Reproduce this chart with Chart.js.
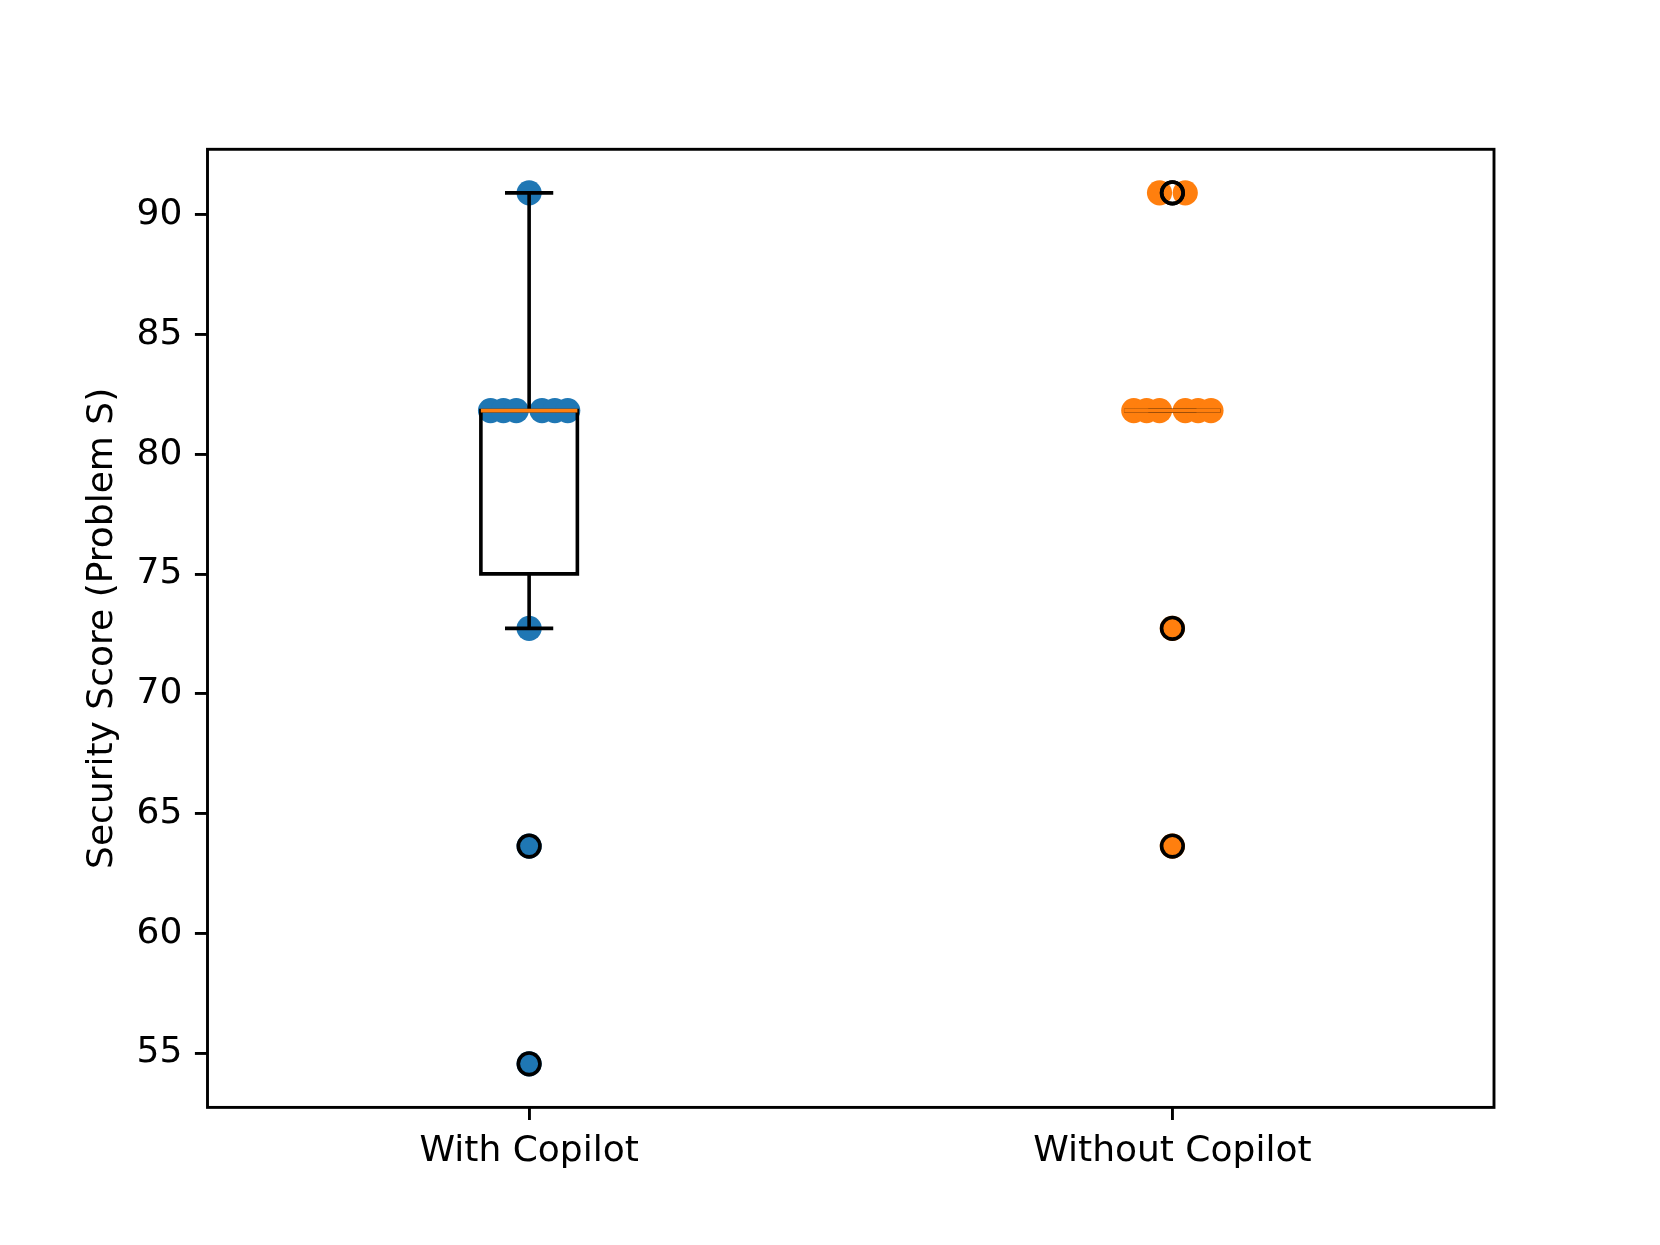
<!DOCTYPE html>
<html><head><meta charset="utf-8">
<script src="https://cdn.jsdelivr.net/npm/chart.js@4"></script>
<style>html,body{margin:0;padding:0;background:#fff;} #wrap{width:1660px;height:1245px;}</style>
</head><body><div id="wrap"><canvas id="c" width="1660" height="1245"></canvas></div>
<script>
const categories = ['With Copilot', 'Without Copilot'];
const withCopilot = [90.91, 81.82, 81.82, 81.82, 81.82, 81.82, 81.82, 72.73, 63.64, 54.55];
const withCopilotJitter = [0, -0.06, -0.04, -0.02, 0.02, 0.04, 0.06, 0, 0, 0];
const withoutCopilot = [90.91, 90.91, 81.82, 81.82, 81.82, 81.82, 81.82, 81.82, 72.73, 63.64];
const withoutCopilotJitter = [-0.02, 0.02, -0.06, -0.04, -0.02, 0.02, 0.04, 0.06, 0, 0];
const yTicks = [55, 60, 65, 70, 75, 80, 85, 90];
const yLabel = 'Security Score (Problem S)';
const seriesValues = [withCopilot, withoutCopilot];
const seriesJitter = [withCopilotJitter, withoutCopilotJitter];
const seriesColors = ['#1f77b4', '#ff7f0e'];

function quantile(sorted, q) {
  const pos = (sorted.length - 1) * q;
  const lo = Math.floor(pos), hi = Math.ceil(pos);
  return sorted[lo] + (sorted[hi] - sorted[lo]) * (pos - lo);
}
function boxStats(vals) {
  const s = [...vals].sort((a, b) => a - b);
  const q1 = quantile(s, 0.25), med = quantile(s, 0.5), q3 = quantile(s, 0.75);
  const iqr = q3 - q1;
  const lo = q1 - 1.5 * iqr, hi = q3 + 1.5 * iqr;
  const inside = s.filter(v => v >= lo - 1e-9 && v <= hi + 1e-9);
  const whislo = Math.min(...inside), whishi = Math.max(...inside);
  const fliers = s.filter(v => v < whislo || v > whishi);
  return {q1, med, q3, whislo, whishi, fliers};
}
const stats = seriesValues.map(boxStats);

const allVals = seriesValues.flat();
const dMin = Math.min(...allVals), dMax = Math.max(...allVals);
const yMargin = (dMax - dMin) * 0.05;

const BOX_W = 0.15;
const LW = 3.6;

const boxPlugin = {
  id: 'boxPlugin',
  afterDatasetsDraw(chart) {
    const ctx = chart.ctx;
    const xs = chart.scales.x, ys = chart.scales.y;
    ctx.save();
    stats.forEach((st, i) => {
      const pos = i + 1;
      const xl = xs.getPixelForValue(pos - BOX_W / 2);
      const xr = xs.getPixelForValue(pos + BOX_W / 2);
      const xc = xs.getPixelForValue(pos);
      const cl = xs.getPixelForValue(pos - BOX_W / 4);
      const cr = xs.getPixelForValue(pos + BOX_W / 4);
      const yq1 = ys.getPixelForValue(st.q1), yq3 = ys.getPixelForValue(st.q3);
      const ylo = ys.getPixelForValue(st.whislo), yhi = ys.getPixelForValue(st.whishi);
      const ymed = ys.getPixelForValue(st.med);
      ctx.strokeStyle = '#000';
      ctx.lineWidth = LW;
      ctx.lineJoin = 'miter';
      ctx.lineCap = 'butt';
      // box
      ctx.beginPath();
      ctx.rect(xl, yq3, xr - xl, yq1 - yq3);
      ctx.stroke();
      // whiskers
      ctx.beginPath();
      ctx.moveTo(xc, yq1); ctx.lineTo(xc, ylo);
      ctx.moveTo(xc, yq3); ctx.lineTo(xc, yhi);
      ctx.stroke();
      // caps
      ctx.beginPath();
      ctx.moveTo(cl, ylo); ctx.lineTo(cr, ylo);
      ctx.moveTo(cl, yhi); ctx.lineTo(cr, yhi);
      ctx.stroke();
      // median
      ctx.strokeStyle = '#ff7f0e';
      ctx.beginPath();
      ctx.moveTo(xl, ymed); ctx.lineTo(xr, ymed);
      ctx.stroke();
      // fliers
      ctx.strokeStyle = '#000';
      st.fliers.forEach(v => {
        ctx.beginPath();
        ctx.arc(xc, ys.getPixelForValue(v), 10.8, 0, Math.PI * 2);
        ctx.stroke();
      });
    });
    ctx.restore();
  },
  afterDraw(chart) {
    const a = chart.chartArea, ctx = chart.ctx;
    ctx.save();
    ctx.strokeStyle = '#000';
    ctx.lineWidth = 2.9;
    ctx.strokeRect(a.left, a.top, a.right - a.left, a.bottom - a.top);
    ctx.restore();
  }
};

const datasets = seriesValues.map((vals, i) => ({
  label: categories[i],
  data: vals.map((v, k) => ({x: i + 1 + seriesJitter[i][k], y: v})),
  backgroundColor: seriesColors[i],
  borderWidth: 0,
  pointRadius: 12.6,
  pointHoverRadius: 12.6,
  clip: false
}));

const tickFont = {family: 'DejaVu Sans', size: 36};

new Chart(document.getElementById('c'), {
  type: 'scatter',
  data: {datasets},
  options: {
    responsive: false,
    animation: false,
    devicePixelRatio: 1,
    events: [],
    layout: {padding: {left: 0, top: 149.3, right: 166, bottom: 0}},
    plugins: {legend: {display: false}, tooltip: {enabled: false}},
    scales: {
      x: {
        type: 'linear', min: 0.5, max: 2.5,
        afterBuildTicks: s => { s.ticks = categories.map((c, i) => ({value: i + 1})); },
        afterFit: s => { s.height = 137.6; },
        ticks: {
          autoSkip: false, maxRotation: 0, color: '#000', font: tickFont, padding: 10,
          callback: v => categories[Math.round(v) - 1]
        },
        grid: {display: true, drawOnChartArea: false, drawTicks: true, tickLength: 12.6, color: '#000', lineWidth: 2.9},
        border: {display: false}
      },
      y: {
        type: 'linear', min: dMin - yMargin, max: dMax + yMargin,
        afterBuildTicks: s => { s.ticks = yTicks.map(v => ({value: v})); },
        afterFit: s => { s.width = 207.5; },
        ticks: {color: '#000', font: tickFont, padding: 12.6, callback: v => String(v)},
        grid: {display: true, drawOnChartArea: false, drawTicks: true, tickLength: 12.6, color: '#000', lineWidth: 2.9},
        border: {display: false},
        title: {display: true, text: yLabel, color: '#000', font: tickFont, padding: {top: 81, bottom: 0}}
      }
    }
  },
  plugins: [boxPlugin]
});
</script></body></html>
